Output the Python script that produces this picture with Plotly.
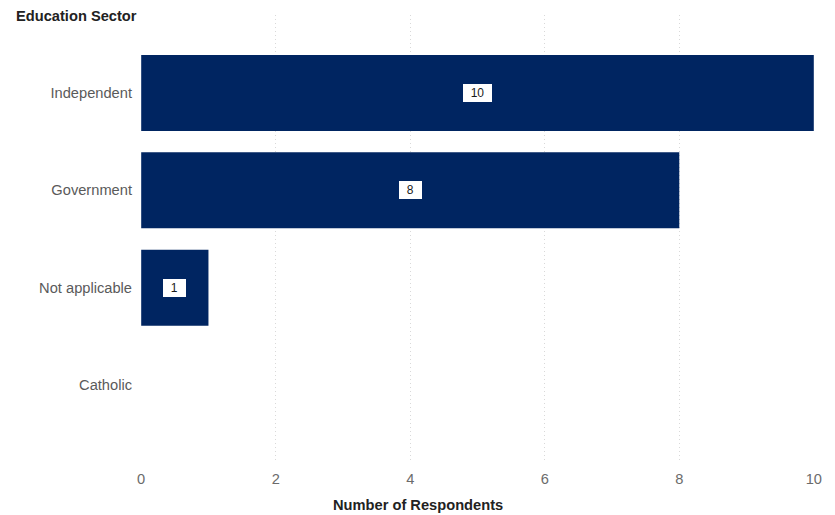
import plotly.graph_objects as go

categories = ["Catholic", "Not applicable", "Government", "Independent"]
values = [0, 1, 8, 10]
x_ticks = [0, 2, 4, 6, 8, 10]

bar_color = "#002561"
font_family = "Liberation Sans, Arial, sans-serif"
FS = 14.67

W, H = 835, 515
ml, mr, mt, mb = 141, 21, 15, 52
pw, ph = W - ml - mr, H - mt - mb

fig = go.Figure()
fig.add_trace(go.Bar(
    y=categories, x=values, orientation="h",
    marker=dict(color=bar_color, line=dict(width=0)),
    width=0.78, hoverinfo="skip",
))

for c, v in zip(categories, values):
    if v > 0:
        label = str(v)
        fig.add_annotation(
            x=v / 2, y=c, text=label, showarrow=False,
            bgcolor="white", borderpad=2, bordercolor="white", borderwidth=0,
            width=6.5 * len(label) + 12, height=14,
            font=dict(family=font_family, size=12, color="#1a1a1a"),
        )

fig.add_annotation(
    x=(14 - ml) / pw, y=1 - (16 - mt) / ph, xref="paper", yref="paper",
    text="<b>Education Sector</b>",
    showarrow=False, xanchor="left", yanchor="middle",
    font=dict(family=font_family, size=FS, color="#222222"),
)
fig.add_annotation(
    x=(W / 2 - ml) / pw, y=-(505 - (H - mb)) / ph, xref="paper", yref="paper",
    text="<b>Number of Respondents</b>",
    showarrow=False, xanchor="center", yanchor="middle",
    font=dict(family=font_family, size=FS, color="#222222"),
)

fig.update_layout(
    width=W, height=H,
    margin=dict(l=ml, r=mr, t=mt, b=mb, pad=0),
    plot_bgcolor="white", paper_bgcolor="white",
    showlegend=False,
    font=dict(family=font_family),
    xaxis=dict(
        range=[-0.003, 10.003], tickvals=x_ticks, ticktext=[str(t) for t in x_ticks],
        showgrid=True, gridcolor="#d9d9d9", griddash="1px,3px", gridwidth=1,
        zeroline=False, showline=False, ticks="",
        tickfont=dict(size=FS, color="#6b6b6b"),
        ticklabelstandoff=5,
    ),
    yaxis=dict(
        categoryorder="array", categoryarray=categories,
        range=[-0.8, 3.8], showgrid=False, zeroline=False, showline=False,
        ticks="", tickfont=dict(size=FS, color="#5a5a5a"),
        ticklabelstandoff=8,
    ),
)

fig.write_html("out.html")
